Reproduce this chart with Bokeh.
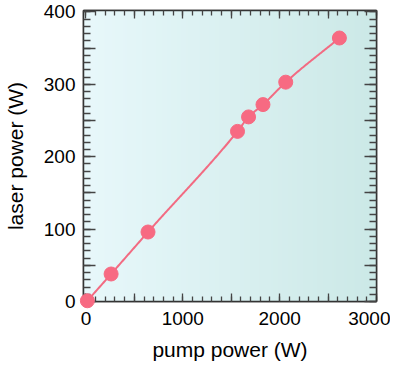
import numpy as np
from bokeh.plotting import figure
from bokeh.models import LinearAxis, FixedTicker, Range1d
from bokeh.embed import file_html
from bokeh.resources import INLINE

# data
pump_power = [15, 260, 641, 1565, 1679, 1828, 2063, 2617]
laser_power = [1, 38, 96, 235, 255, 272, 303, 364]

x_major = [0, 500, 1000, 1500, 2000, 2500, 3000]
x_labels = {0: "0", 500: "", 1000: "1000", 1500: "", 2000: "2000", 2500: "", 3000: "3000"}
y_major = [0, 50, 100, 150, 200, 250, 300, 350, 400]
y_labels = {0: "0", 50: "", 100: "100", 150: "", 200: "200", 250: "", 300: "300", 350: "", 400: "400"}

bg_left = (232, 248, 251)
bg_right = (204, 233, 231)

X0, X1, Y0, Y1 = -25, 3000, 0, 402


def pchip(x, y, xs):
    x = np.asarray(x, float); y = np.asarray(y, float)
    h = np.diff(x); d = np.diff(y) / h
    n = len(x); m = np.zeros(n)
    for i in range(1, n - 1):
        if d[i - 1] * d[i] > 0:
            w1 = 2 * h[i] + h[i - 1]; w2 = h[i] + 2 * h[i - 1]
            m[i] = (w1 + w2) / (w1 / d[i - 1] + w2 / d[i])
    m[0] = d[0]; m[-1] = d[-1]
    out = np.empty_like(xs)
    for j, xv in enumerate(xs):
        k = min(max(np.searchsorted(x, xv) - 1, 0), n - 2)
        t = (xv - x[k]) / h[k]
        h00 = 2 * t**3 - 3 * t**2 + 1; h10 = t**3 - 2 * t**2 + t
        h01 = -2 * t**3 + 3 * t**2; h11 = t**3 - t**2
        out[j] = h00 * y[k] + h10 * h[k] * m[k] + h01 * y[k + 1] + h11 * h[k] * m[k + 1]
    return out


p = figure(width=390, height=363, output_backend="svg", toolbar_location=None,
           x_range=Range1d(X0, X1), y_range=Range1d(Y0, Y1),
           min_border_left=82, min_border_right=14, min_border_top=10, min_border_bottom=60,
           x_axis_label="pump power (W)", y_axis_label="laser power (W)")
p.grid.visible = False
p.outline_line_color = "#333333"
p.outline_line_width = 1.5
p.background_fill_color = "white"

# gradient background
N = 200
img = np.zeros((1, N), dtype=np.uint32)
view = img.view(dtype=np.uint8).reshape((1, N, 4))
for i in range(N):
    f = i / (N - 1)
    view[0, i, 0] = int(bg_left[0] + (bg_right[0] - bg_left[0]) * f)
    view[0, i, 1] = int(bg_left[1] + (bg_right[1] - bg_left[1]) * f)
    view[0, i, 2] = int(bg_left[2] + (bg_right[2] - bg_left[2]) * f)
    view[0, i, 3] = 255
p.image_rgba(image=[img], x=X0, y=Y0, dw=X1 - X0, dh=Y1 - Y0)

xs = np.linspace(pump_power[0], pump_power[-1], 300)
ys = pchip(pump_power, laser_power, xs)
p.line(xs, ys, line_color="#f26b82", line_width=2)
p.scatter(pump_power, laser_power, size=14, fill_color="#f76a82", line_color="#f76a82",
          level="overlay")

font = "Liberation Sans"


def style(ax, ticks, labels, major_len, minor_len, show):
    ax.ticker = FixedTicker(ticks=ticks, minor_ticks=list(np.arange(ticks[0], ticks[-1] + 1, (ticks[1] - ticks[0]) / 5)))
    ax.major_label_overrides = labels
    ax.major_tick_in = major_len
    ax.major_tick_out = 0
    ax.minor_tick_in = minor_len
    ax.minor_tick_out = 0
    ax.major_tick_line_color = "#444444"
    ax.minor_tick_line_color = "#444444"
    ax.major_tick_line_width = 1.3
    ax.minor_tick_line_width = 1.3
    ax.axis_line_color = "#333333"
    ax.axis_line_width = 1.5
    ax.major_label_text_font = font
    ax.major_label_text_font_size = "19px"
    ax.major_label_text_color = "black"
    ax.axis_label_text_font = font
    ax.axis_label_text_font_size = "21px"
    ax.axis_label_text_font_style = "normal"
    ax.axis_label_text_color = "black"
    if not show:
        ax.major_label_text_alpha = 0
        ax.major_label_text_font_size = "1px"
        ax.major_label_standoff = 0


style(p.xaxis[0], x_major, x_labels, 8, 5, True)
style(p.yaxis[0], y_major, y_labels, 12, 7, True)
p.xaxis[0].major_label_standoff = 10
p.yaxis[0].major_label_standoff = 8
p.xaxis[0].axis_label_standoff = 10
p.yaxis[0].axis_label_standoff = 14

top = LinearAxis()
style(top, x_major, x_labels, 8, 5, False)
p.add_layout(top, "above")
right = LinearAxis()
style(right, y_major, y_labels, 12, 7, False)
p.add_layout(right, "right")

open("out.html", "w").write(file_html(p, INLINE))
